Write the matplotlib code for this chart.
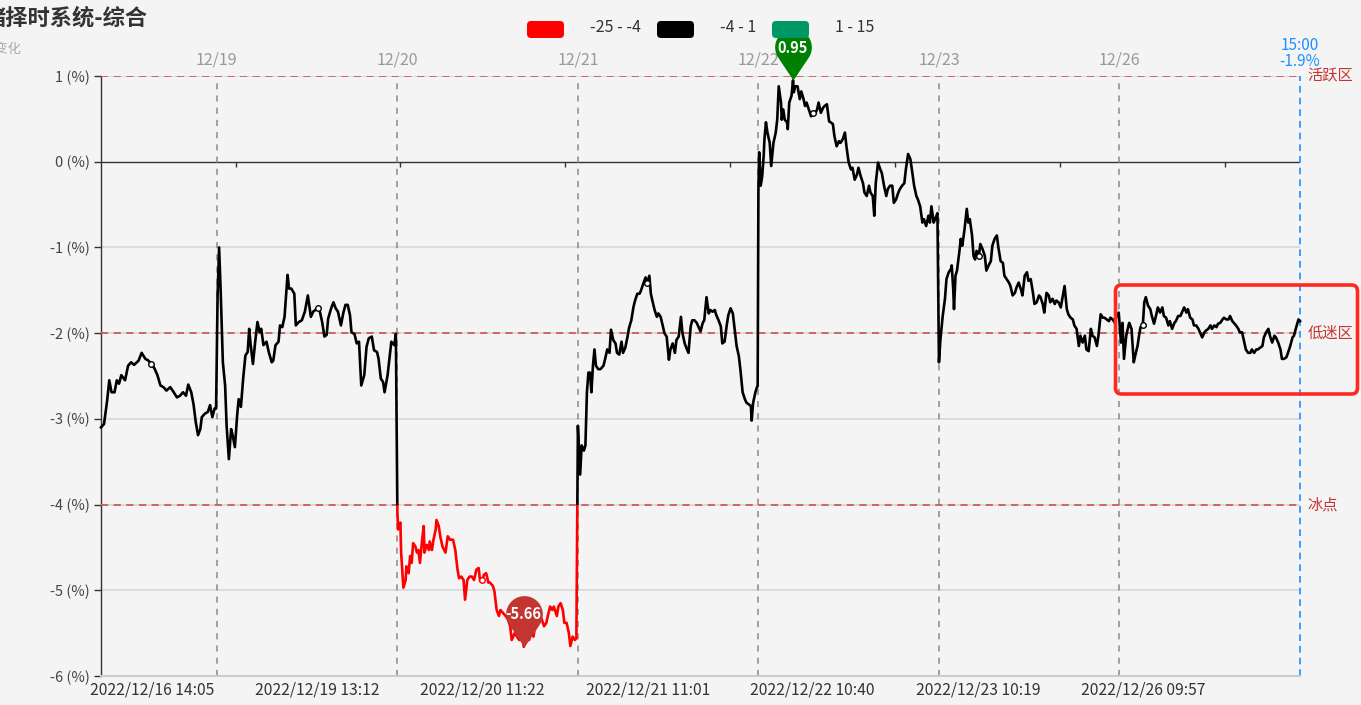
import numpy as np
import matplotlib
matplotlib.use('Agg')
import matplotlib.pyplot as plt
from matplotlib.patches import FancyBboxPatch, Rectangle
from matplotlib.path import Path
from matplotlib.transforms import IdentityTransform, blended_transform_factory

plt.rcParams['font.family'] = ['Noto Sans CJK SC', 'DejaVu Sans']

W, H = 1361, 705
BG = '#f4f4f4'

# ---------------- data ----------------
# trading-minute index at which each session starts; each session = 240 min
session_starts = [0, 154, 394, 634, 874, 1114, 1354]
day_labels = ['12/19', '12/20', '12/21', '12/22', '12/23', '12/26']

day0_min = [0, 4, 8, 11, 14, 18, 21, 24, 27, 32, 36, 40, 44, 50, 54, 59, 63, 67, 71, 75,
            79, 83, 87, 92, 96, 101, 105, 109, 113, 116, 120, 123, 126, 129, 132, 134, 138, 142, 145, 148,
            151, 153]
day0_val = [-3.10, -3.06, -2.80, -2.55, -2.69, -2.69, -2.55, -2.59, -2.49, -2.55,
            -2.38, -2.34, -2.37, -2.32, -2.23, -2.30, -2.32, -2.36, -2.41, -2.49,
            -2.61, -2.63, -2.67, -2.63, -2.68, -2.75, -2.73, -2.69, -2.73, -2.60,
            -2.69, -2.83, -3.04, -3.19, -3.12, -2.98, -2.94, -2.92, -2.84, -2.98,
            -2.88, -2.88]

day1_min = [1, 3, 5, 8, 11, 13, 16, 19, 21, 24, 27, 29, 32, 35, 38, 41, 43, 45, 48, 51,
            54, 57, 59, 62, 66, 69, 73, 75, 78, 82, 84, 87, 90, 94, 96, 99, 103, 105, 109, 113,
            117, 121, 125, 128, 131, 134, 137, 140, 143, 146, 148, 152, 155, 158, 161, 165, 168, 171, 174, 177,
            179, 183, 186, 189, 192, 196, 199, 202, 206, 209, 213, 215, 218, 221, 223, 227, 230, 232, 236, 238]
day1_val = [-1.56, -1.00, -1.48, -2.34, -2.61, -3.08, -3.47, -3.12, -3.19, -3.33,
            -2.96, -2.77, -2.86, -2.53, -2.26, -2.22, -1.95, -2.14, -2.36, -2.10,
            -1.87, -1.99, -1.95, -2.14, -2.10, -2.22, -2.34, -2.32, -2.14, -2.10,
            -1.91, -1.93, -1.81, -1.32, -1.48, -1.48, -1.54, -1.91, -1.87, -1.85,
            -1.75, -1.56, -1.81, -1.75, -1.73, -1.71, -1.75, -1.87, -2.04, -2.02,
            -1.83, -1.71, -1.64, -1.71, -1.75, -1.91, -1.77, -1.67, -1.67, -1.79,
            -1.99, -2.01, -2.12, -2.10, -2.61, -2.49, -2.16, -2.06, -2.04, -2.20,
            -2.22, -2.30, -2.53, -2.57, -2.69, -2.49, -2.26, -2.10, -2.14, -2.01]

day2_min = [0, 1, 4, 5, 8, 11, 12, 15, 17, 19, 21, 24, 26, 28, 30, 33, 35, 36, 39, 42,
            43, 46, 48, 51, 52, 55, 57, 60, 64, 67, 70, 74, 77, 80, 82, 85, 88, 90, 93, 96,
            99, 102, 105, 108, 110, 113, 115, 118, 121, 123, 127, 129, 132, 135, 137, 140, 144, 147, 150, 152,
            156, 159, 162, 166, 168, 171, 175, 178, 181, 183, 187, 189, 192, 195, 198, 200, 203, 206, 208, 212,
            214, 217, 220, 222, 225, 228, 230, 233, 236, 238]
day2_val = [-4.08, -4.29, -4.21, -4.56, -4.97, -4.88, -4.72, -4.80, -4.60, -4.68,
            -4.45, -4.49, -4.56, -4.53, -4.68, -4.41, -4.25, -4.56, -4.47, -4.53,
            -4.43, -4.53, -4.41, -4.29, -4.18, -4.25, -4.37, -4.49, -4.56, -4.37,
            -4.41, -4.41, -4.53, -4.76, -4.86, -4.84, -4.88, -5.11, -4.88, -4.84,
            -4.84, -4.88, -4.76, -4.74, -4.89, -4.88, -4.82, -4.80, -4.91, -4.91,
            -4.95, -5.01, -5.23, -5.30, -5.23, -5.26, -5.30, -5.34, -5.42, -5.58,
            -5.50, -5.54, -5.58, -5.50, -5.66, -5.58, -5.58, -5.50, -5.54, -5.42,
            -5.38, -5.30, -5.34, -5.42, -5.38, -5.30, -5.19, -5.23, -5.19, -5.30,
            -5.19, -5.15, -5.23, -5.38, -5.38, -5.50, -5.65, -5.54, -5.58, -5.56]

day3_min = [0, 3, 5, 8, 10, 12, 14, 16, 18, 20, 22, 24, 27, 30, 34, 36, 39, 42, 44, 47,
            50, 52, 55, 58, 60, 63, 66, 68, 71, 74, 76, 79, 82, 84, 87, 90, 92, 95, 97, 99,
            102, 105, 107, 110, 113, 115, 118, 121, 123, 126, 129, 131, 134, 137, 139, 142, 145, 147, 150, 152,
            155, 158, 160, 163, 166, 168, 171, 174, 176, 179, 182, 184, 187, 190, 192, 195, 198, 200, 203, 206,
            208, 211, 214, 216, 219, 222, 224, 227, 230, 231, 233, 236, 238, 239]
day3_val = [-3.08, -3.65, -3.31, -3.37, -3.31, -2.69, -2.46, -2.46, -2.69, -2.38,
            -2.19, -2.38, -2.42, -2.42, -2.38, -2.31, -2.19, -2.23, -1.96, -2.08,
            -2.12, -2.23, -2.25, -2.10, -2.23, -2.17, -2.04, -1.94, -1.85, -1.69,
            -1.62, -1.54, -1.54, -1.50, -1.42, -1.35, -1.42, -1.33, -1.54, -1.62,
            -1.73, -1.81, -1.77, -1.81, -1.92, -2.00, -2.04, -2.31, -2.19, -2.12,
            -2.23, -2.08, -2.04, -1.81, -2.00, -2.12, -2.19, -2.23, -1.92, -1.85,
            -1.85, -1.88, -1.92, -1.98, -1.88, -1.85, -1.58, -1.77, -1.73, -1.75,
            -1.73, -1.79, -1.85, -1.92, -2.12, -2.10, -1.90, -1.79, -1.71, -1.77,
            -1.92, -2.15, -2.27, -2.42, -2.69, -2.77, -2.81, -2.83, -2.85, -3.02,
            -2.81, -2.69, -2.63, -2.62]

day4_min = [0, 1, 3, 5, 7, 8, 10, 12, 15, 17, 20, 23, 25, 27, 30, 31, 33, 35, 38, 39,
            41, 44, 46, 47, 49, 52, 55, 57, 60, 62, 64, 67, 70, 72, 75, 78, 80, 83, 86, 88,
            91, 94, 96, 99, 101, 104, 107, 109, 112, 115, 117, 120, 123, 125, 128, 131, 133, 136, 139, 141,
            144, 147, 149, 152, 154, 156, 159, 162, 164, 167, 170, 172, 175, 178, 180, 183, 186, 188, 191, 194,
            196, 199, 202, 204, 207, 210, 212, 215, 218, 220, 223, 226, 228, 230, 233, 235, 238]
day4_val = [-0.32, 0.11, -0.28, -0.17, 0.07, 0.26, 0.46, 0.34, 0.22, -0.05,
            0.22, 0.34, 0.49, 0.88, 0.69, 0.49, 0.61, 0.49, 0.46, 0.38,
            0.69, 0.77, 0.95, 0.81, 0.88, 0.88, 0.73, 0.82, 0.73, 0.65,
            0.69, 0.61, 0.53, 0.57, 0.55, 0.61, 0.69, 0.57, 0.63, 0.65,
            0.67, 0.47, 0.46, 0.44, 0.30, 0.18, 0.24, 0.22, 0.26, 0.34,
            0.18, -0.01, -0.09, -0.07, -0.21, -0.15, -0.07, -0.17, -0.25, -0.36,
            -0.40, -0.28, -0.36, -0.40, -0.63, -0.25, -0.01, -0.09, -0.13, -0.28,
            -0.40, -0.32, -0.28, -0.28, -0.48, -0.44, -0.36, -0.32, -0.28, -0.25,
            -0.09, 0.09, 0.03, -0.09, -0.28, -0.40, -0.44, -0.52, -0.71, -0.67,
            -0.75, -0.63, -0.71, -0.52, -0.71, -0.67, -0.60]

day5_min = [0, 2, 5, 8, 10, 13, 16, 17, 19, 20, 22, 24, 27, 29, 31, 34, 37, 39, 41, 44,
            46, 48, 50, 53, 55, 58, 61, 63, 66, 69, 71, 74, 77, 79, 82, 85, 87, 90, 93, 95,
            98, 101, 103, 106, 109, 111, 114, 117, 119, 122, 125, 127, 130, 133, 135, 138, 140, 143, 146, 148,
            151, 154, 156, 159, 162, 164, 167, 170, 172, 175, 178, 180, 183, 186, 188, 191, 194, 196, 199, 202,
            204, 207, 210, 212, 215, 218, 220, 223, 226, 228, 231, 234, 236, 239]
day5_val = [-2.34, -2.07, -1.80, -1.60, -1.37, -1.29, -1.25, -1.21, -1.49, -1.72,
            -1.33, -1.27, -1.06, -0.90, -0.98, -0.79, -0.55, -0.71, -0.67, -0.86,
            -1.10, -1.14, -1.04, -1.10, -0.96, -1.02, -1.10, -1.27, -1.21, -1.16,
            -0.98, -0.90, -0.86, -1.00, -1.16, -1.18, -1.33, -1.37, -1.41, -1.45,
            -1.56, -1.53, -1.47, -1.41, -1.49, -1.56, -1.33, -1.29, -1.39, -1.37,
            -1.53, -1.66, -1.64, -1.56, -1.58, -1.66, -1.76, -1.53, -1.56, -1.64,
            -1.60, -1.66, -1.62, -1.64, -1.70, -1.60, -1.45, -1.72, -1.78, -1.82,
            -1.84, -1.91, -1.95, -2.15, -2.03, -2.11, -2.03, -2.19, -2.21, -1.95,
            -2.03, -2.05, -2.15, -2.03, -1.78, -1.82, -1.82, -1.84, -1.86, -1.82,
            -1.84, -1.88, -1.80, -1.76]

day6_min = [0, 2, 4, 6, 9, 12, 13, 16, 19, 21, 24, 26, 28, 31, 33, 35, 38, 41, 43, 46,
            49, 51, 54, 57, 59, 62, 65, 67, 70, 73, 75, 78, 81, 83, 86, 89, 91, 94, 97, 99,
            102, 105, 107, 110, 113, 115, 118, 121, 123, 126, 129, 131, 134, 137, 139, 142, 145, 147, 150, 152,
            155, 158, 160, 163, 166, 168, 171, 174, 176, 179, 182, 184, 187, 190, 192, 195, 198, 200, 203, 206,
            208, 211, 214, 216, 219, 222, 224, 227, 230, 232, 235, 238, 240]
day6_val = [-1.88, -2.11, -1.88, -2.30, -2.03, -1.91, -1.88, -1.95, -2.34, -2.26,
            -2.15, -2.03, -1.93, -1.91, -1.64, -1.58, -1.68, -1.72, -1.80, -1.89,
            -1.78, -1.70, -1.76, -1.70, -1.80, -1.82, -1.91, -1.86, -1.95, -1.88,
            -1.86, -1.80, -1.80, -1.76, -1.70, -1.76, -1.72, -1.82, -1.84, -1.91,
            -1.91, -1.95, -1.99, -2.05, -1.99, -1.97, -1.95, -1.91, -1.95, -1.91,
            -1.93, -1.89, -1.88, -1.84, -1.82, -1.84, -1.84, -1.80, -1.86, -1.88,
            -1.91, -1.95, -1.99, -1.99, -2.11, -2.19, -2.23, -2.23, -2.19, -2.23,
            -2.19, -2.19, -2.17, -2.15, -2.05, -1.99, -1.95, -2.03, -2.11, -2.03,
            -2.05, -2.11, -2.19, -2.30, -2.30, -2.28, -2.23, -2.15, -2.05, -2.03,
            -1.93, -1.84, -1.86]

tick_pos = [68, 287, 507, 727, 946, 1166, 1386]
tick_labels = ['2022/12/16 14:05', '2022/12/19 13:12', '2022/12/20 11:22',
               '2022/12/21 11:01', '2022/12/22 10:40', '2022/12/23 10:19',
               '2022/12/26 09:57']
zero_ticks = [179, 398, 617, 836, 1056, 1275, 1494]
y_ticks = [1, 0, -1, -2, -3, -4, -5, -6]
zones = [(1, '活跃区'), (-2, '低迷区'), (-4, '冰点')]
pieces = [(-25, -4, '#ff0000', '-25 - -4'), (-4, 1, '#000000', '-4 - 1'),
          (1, 15, '#009966', '1 - 15')]
end_time = '15:00'

days_min = [day0_min, day1_min, day2_min, day3_min, day4_min, day5_min, day6_min]
days_val = [day0_val, day1_val, day2_val, day3_val, day4_val, day5_val, day6_val]
for m, vv in zip(days_min, days_val):
    assert len(m) == len(vv), (len(m), len(vv))
t = np.concatenate([s + np.asarray(m, float) for s, m in zip(session_starts, days_min)])
v = np.concatenate([np.asarray(x, float) for x in days_val])
T_END = session_starts[-1] + 240

# ---------------- figure ----------------
fig = plt.figure(figsize=(W / 100, H / 100), dpi=100, facecolor=BG)
ax = fig.add_axes([101 / W, (H - 676) / H, 1199 / W, 600 / H], facecolor=BG)
ax.set_xlim(0, T_END)
ax.set_ylim(-6, 1)
for s in ['top', 'right']:
    ax.spines[s].set_visible(False)
ax.spines['left'].set_color('#333333')
ax.spines['left'].set_linewidth(1.0)
ax.spines['bottom'].set_color('#cccccc')
ax.spines['bottom'].set_linewidth(1.5)

ax.set_yticks(y_ticks)
ax.set_yticklabels([f'{y} (%)' for y in y_ticks], color='#444444', fontsize=10.5)
ax.tick_params(axis='y', length=5, width=1, color='#333333', pad=3)
ax.set_xticks(tick_pos)
ax.set_xticklabels(tick_labels, fontsize=11.3, color='#333333')
ax.tick_params(axis='x', length=0, pad=4)

# horizontal grid
for y in y_ticks:
    if y in (0, -6):
        continue
    ax.axhline(y, color='#d6d6d6', lw=1.2, zorder=1)
ax.axhline(0, color='#333333', lw=1.0, zorder=2)
ax.vlines(zero_ticks, -0.06, 0, colors='#333333', lw=1.0, zorder=2)

# session separators
ax.vlines(session_starts[1:], -6, 0.97, colors='#8a8a8a', linestyles=(0, (4, 4)), lw=1.1, zorder=2)
ax.axvline(T_END, color='#1e90ff', ls=(0, (4, 3)), lw=1.2, zorder=2, clip_on=False)

# zone mark lines
ytrans = blended_transform_factory(ax.transAxes, ax.transData)
for y, lab in zones:
    ax.axhline(y, color='#cd5c5c', ls=(0, (4, 3)), lw=1.3, zorder=3)
    ax.text(1.006, y, lab, transform=ytrans, color='#c23531', fontsize=11,
            va='center', ha='left')

# series coloured by value pieces
for lo, hi, col, _ in pieces:
    ln, = ax.plot(t, v, color=col, lw=1.9, solid_joinstyle='round', zorder=4)
    clip = Rectangle((-100, lo), T_END + 200, hi - lo, transform=ax.transData)
    ln.set_clip_path(clip)

def piece_color(val):
    for lo, hi, col, _ in pieces:
        if lo <= val < hi:
            return col
    return pieces[-1][2]

# small hollow symbols at labelled positions
for p in tick_pos:
    i = int(np.argmin(np.abs(t - p)))
    ax.plot(t[i], v[i], 'o', ms=4, mfc='white', mec=piece_color(v[i]), mew=1.0, zorder=5)

# pin markers
def pin_path(c=1.8, r=1.0):
    a = np.arccos(r / c)
    th = np.linspace(-np.pi / 2 + a, 3 * np.pi / 2 - a, 80)
    xs = r * np.cos(th)
    ys = c + r * np.sin(th)
    verts = np.vstack([[0, 0], np.column_stack([xs, ys]), [0, 0]])
    codes = [Path.MOVETO] + [Path.LINETO] * (len(verts) - 2) + [Path.CLOSEPOLY]
    return Path(verts, codes)

PIN = pin_path()
imax = int(np.argmax(v))
imin = int(np.argmin(v))
for i, col in [(imax, '#008000'), (imin, '#c23531')]:
    ax.plot(t[i], v[i], marker=PIN, ms=74, mfc=col, mec='none', zorder=6, clip_on=False)
    ax.annotate(f'{v[i]:.2f}', (t[i], v[i]), xytext=(0, 23.5), textcoords='offset points',
                ha='center', va='center', color='white', fontsize=10.5, fontweight='bold',
                zorder=7, annotation_clip=False)

# top session labels
xtrans = blended_transform_factory(ax.transData, ax.transAxes)
for s, lab in zip(session_starts[1:], day_labels):
    ax.text(s, 1 + 16 / 600, lab, transform=xtrans, ha='center', va='center',
            color='#999999', fontsize=11.5)
ax.text(T_END, 1 + 30 / 600, end_time, transform=xtrans, ha='center', va='center',
        color='#1e90ff', fontsize=11)
ax.text(T_END, 1 + 14 / 600, f'{v[-1]:.1f}%', transform=xtrans, ha='center', va='center',
        color='#1e90ff', fontsize=11)

# title / subtitle (clipped on the left like the original)
fig.text(-16 / W, 1 - 18 / H, '绪择时系统-综合', fontsize=16, fontweight='bold',
         color='#333333', va='center', ha='left')
fig.text(-31 / W, 1 - 49 / H, '涨跌变化', fontsize=9.5, color='#aaaaaa', va='center', ha='left')

# legend
idt = IdentityTransform()
lx = [527, 657, 772]
tx = [590, 720, 835]
for (lo, hi, col, lab), x0, x1 in zip(pieces, lx, tx):
    fig.add_artist(FancyBboxPatch((x0, H - 38), 37, 17, boxstyle='round,pad=0,rounding_size=4',
                                  transform=idt, facecolor=col, edgecolor='none'))
    fig.text(x1 / W, 1 - 28 / H, lab, fontsize=11.5, color='#333333', va='center', ha='left')

# highlight box
fig.add_artist(FancyBboxPatch((1115.5, H - 394), 242, 109, boxstyle='round,pad=0,rounding_size=6',
                              transform=idt, facecolor='none', edgecolor='#ff2a1f', lw=2.6))

fig.savefig('out.png', dpi=100, facecolor=BG)
